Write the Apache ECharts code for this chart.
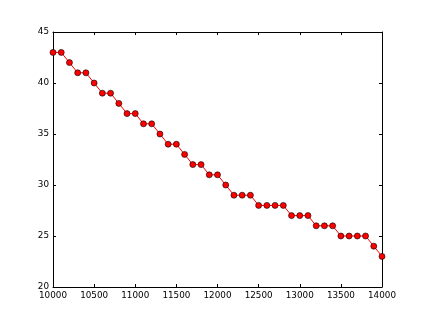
<!DOCTYPE html>
<html><head><meta charset="utf-8">
<script src="https://cdn.jsdelivr.net/npm/echarts@6/dist/echarts.min.js"></script>
<style>html,body{margin:0;padding:0;background:#fff}#c{width:424px;height:320px}</style>
</head><body><div id="c"></div>
<script>
const xValues = [10000,10100,10200,10300,10400,10500,10600,10700,10800,10900,11000,11100,11200,11300,11400,11500,11600,11700,11800,11900,12000,12100,12200,12300,12400,12500,12600,12700,12800,12900,13000,13100,13200,13300,13400,13500,13600,13700,13800,13900,14000];
const yValues = [43,43,42,41,41,40,39,39,38,37,37,36,36,35,34,34,33,32,32,31,31,30,29,29,29,28,28,28,28,27,27,27,26,26,26,25,25,25,25,24,23];
const data = xValues.map((x,i)=>[x,yValues[i]]);
const font = {fontFamily:'DejaVu Sans', fontSize:8.8, color:'#000'};
const chart = echarts.init(document.getElementById('c'));
const frameLine = {show:true, lineStyle:{color:'#000', width:1}};
const tick = {show:true, inside:true, length:3, lineStyle:{color:'#000'}};
chart.setOption({
  animation:false,
  grid:{left:53, right:42, top:32, bottom:33},
  xAxis:[
    {type:'value', min:10000, max:14000, interval:500, position:'bottom',
     axisLine:frameLine, axisTick:tick, splitLine:{show:false},
     axisLabel:Object.assign({margin:4, formatter:v=>String(v)}, font)},
    {type:'value', min:10000, max:14000, interval:500, position:'top',
     axisLine:frameLine, axisTick:tick, splitLine:{show:false}, axisLabel:{show:false}}
  ],
  yAxis:[
    {type:'value', min:20, max:45, interval:5, position:'left',
     axisLine:frameLine, axisTick:tick, splitLine:{show:false},
     axisLabel:Object.assign({margin:4, formatter:v=>String(v)}, font)},
    {type:'value', min:20, max:45, interval:5, position:'right',
     axisLine:frameLine, axisTick:tick, splitLine:{show:false}, axisLabel:{show:false}}
  ],
  series:[{
    type:'line', data:data, xAxisIndex:0, yAxisIndex:0,
    lineStyle:{color:'#ff0000', width:1},
    symbol:'circle', symbolSize:6,
    itemStyle:{color:'#ff0000', borderColor:'#000', borderWidth:0.6},
    clip:false
  }]
});
</script></body></html>
